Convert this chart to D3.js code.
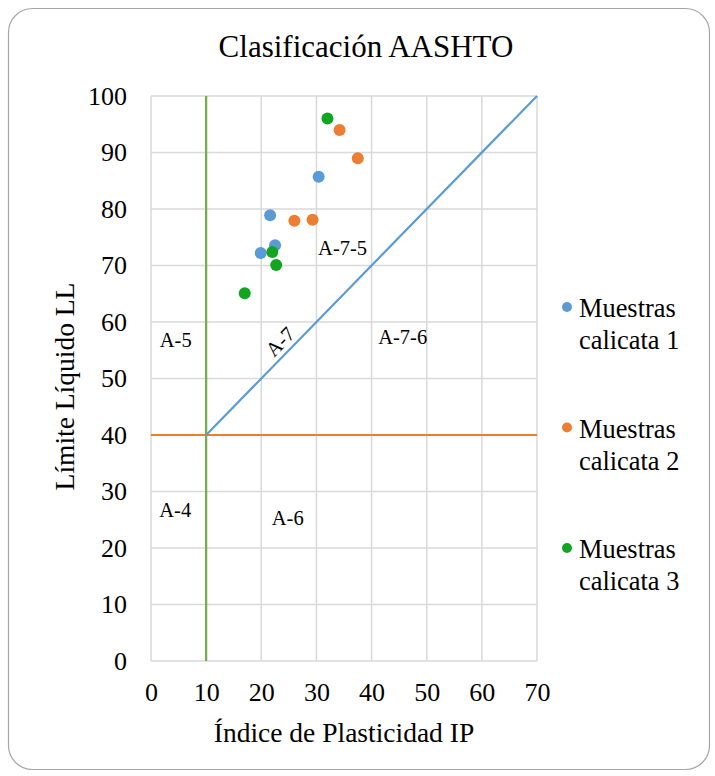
<!DOCTYPE html>
<html>
<head>
<meta charset="utf-8">
<script src="https://cdn.jsdelivr.net/npm/d3@7"></script>
<style>
  body { margin: 0; background: #fff; }
  svg text { font-family: "Times New Roman", "Liberation Serif", Tinos, serif; fill: #000; }
</style>
</head>
<body>
<svg id="chart"></svg>
<script>
// series: [IP, LL]
const calicata1 = [[30.4, 85.7], [21.6, 78.9], [22.5, 73.6], [19.9, 72.2]]
const calicata2 = [[34.2, 94], [37.5, 89], [26.0, 77.9], [29.3, 78.1]]
const calicata3 = [[32.0, 96], [22.0, 72.4], [22.7, 70.1], [17.0, 65.1]]
const seriesNames = ["Muestras calicata 1", "Muestras calicata 2", "Muestras calicata 3"]
const seriesColors = ["#5b9bd5", "#ed7d31", "#12a521"]

const xTicks = [0, 10, 20, 30, 40, 50, 60, 70]
const yTicks = [0, 10, 20, 30, 40, 50, 60, 70, 80, 90, 100]

// classification lines
const lineIP10 = [[10, 0], [10, 100]]
const lineLL40 = [[0, 40], [70, 40]]
const lineA7 = [[10, 40], [70, 100]]

// zone labels [text, IP, LL]
const zones = [
  ["A-5", 1.6, 55.6],
  ["A-4", 1.5, 25.5],
  ["A-6", 21.9, 24.1],
  ["A-7-5", 30.3, 71.9],
  ["A-7-6", 41.2, 56.1]
]

const W = 715, H = 776
const margin = {left: 151, right: 178, top: 96, bottom: 115}
const serif = '"Times New Roman", "Liberation Serif", Tinos, serif'

const svg = d3.select('#chart').attr('width', W).attr('height', H)

svg.append('rect')
  .attr('x', 8.5).attr('y', 8.5)
  .attr('width', 701).attr('height', 761)
  .attr('rx', 24).attr('ry', 24)
  .style('fill', '#fff')
  .style('stroke', '#a6a6a6')
  .style('stroke-width', 1.2)

const x = d3.scaleLinear().domain([0, 70]).range([margin.left, W - margin.right])
const y = d3.scaleLinear().domain([0, 100]).range([H - margin.bottom, margin.top])

// grid
svg.append('g')
  .selectAll('line.v')
  .data(xTicks)
  .join('line')
  .attr('x1', d => x(d)).attr('x2', d => x(d))
  .attr('y1', y(0)).attr('y2', y(100))
  .style('stroke', '#d9d9d9').style('stroke-width', 1.5)

svg.append('g')
  .selectAll('line.h')
  .data(yTicks)
  .join('line')
  .attr('x1', x(0)).attr('x2', x(70))
  .attr('y1', d => y(d)).attr('y2', d => y(d))
  .style('stroke', '#d9d9d9').style('stroke-width', 1.5)

// axes (labels only)
const xAxis = svg.append('g')
  .attr('transform', `translate(0,${y(0)})`)
  .call(d3.axisBottom(x).tickValues(xTicks).tickSize(0).tickPadding(22))
xAxis.attr('font-family', serif)
xAxis.select('.domain').remove()
xAxis.selectAll('text').attr('dy', '0.71em').style('font-size', '26px')

const yAxis = svg.append('g')
  .attr('transform', `translate(${x(0)},0)`)
  .call(d3.axisLeft(y).tickValues(yTicks).tickSize(0).tickPadding(24))
yAxis.attr('font-family', serif)
yAxis.select('.domain').remove()
yAxis.selectAll('text').style('font-size', '26px')

// classification lines
const line = d3.line().x(d => x(d[0])).y(d => y(d[1]))
svg.append('path').attr('d', line(lineLL40))
  .style('fill', 'none').style('stroke', '#ed7d31').style('stroke-width', 2.2)
svg.append('path').attr('d', line(lineIP10))
  .style('fill', 'none').style('stroke', '#70ad47').style('stroke-width', 2.2)
svg.append('path').attr('d', line(lineA7))
  .style('fill', 'none').style('stroke', '#5b9bd5').style('stroke-width', 2.2)

// zone labels
svg.append('g')
  .selectAll('text')
  .data(zones)
  .join('text')
  .attr('x', d => x(d[1]))
  .attr('y', d => y(d[2]))
  .style('font-size', '20.5px')
  .text(d => d[0])

const angle = Math.atan2(y(100) - y(40), x(70) - x(10)) * 180 / Math.PI
svg.append('text')
  .attr('transform', `translate(${x(23.4)},${y(56.5)}) rotate(${angle})`)
  .attr('text-anchor', 'middle')
  .attr('dominant-baseline', 'central')
  .style('font-size', '20.5px')
  .text('A-7')

// points
const allSeries = [calicata1, calicata2, calicata3]
allSeries.forEach((s, i) => {
  svg.append('g')
    .selectAll('circle')
    .data(s)
    .join('circle')
    .attr('cx', d => x(d[0]))
    .attr('cy', d => y(d[1]))
    .attr('r', 6)
    .style('fill', seriesColors[i])
})

// titles
svg.append('text')
  .attr('x', 366).attr('y', 57)
  .attr('text-anchor', 'middle')
  .style('font-size', '31px')
  .text('Clasificación AASHTO')

svg.append('text')
  .attr('x', (x(0) + x(70)) / 2).attr('y', 742)
  .attr('text-anchor', 'middle')
  .style('font-size', '27.5px')
  .text('Índice de Plasticidad IP')

svg.append('text')
  .attr('transform', `translate(74,${(y(0) + y(100)) / 2 + 8}) rotate(-90)`)
  .attr('text-anchor', 'middle')
  .style('font-size', '27.5px')
  .text('Límite Líquido LL')

// legend
const legend = svg.append('g')
  .selectAll('g')
  .data(seriesNames)
  .join('g')
  .attr('transform', (d, i) => `translate(567,${307 + i * 120.5})`)

legend.append('circle').attr('r', 5).style('fill', (d, i) => seriesColors[i])
const lt = legend.append('text').attr('y', 10).style('font-size', '26.4px')
lt.append('tspan').attr('x', 12).text(d => d.split(' ')[0])
lt.append('tspan').attr('x', 12).attr('dy', 32).text(d => d.split(' ').slice(1).join(' '))
</script>
</body>
</html>
